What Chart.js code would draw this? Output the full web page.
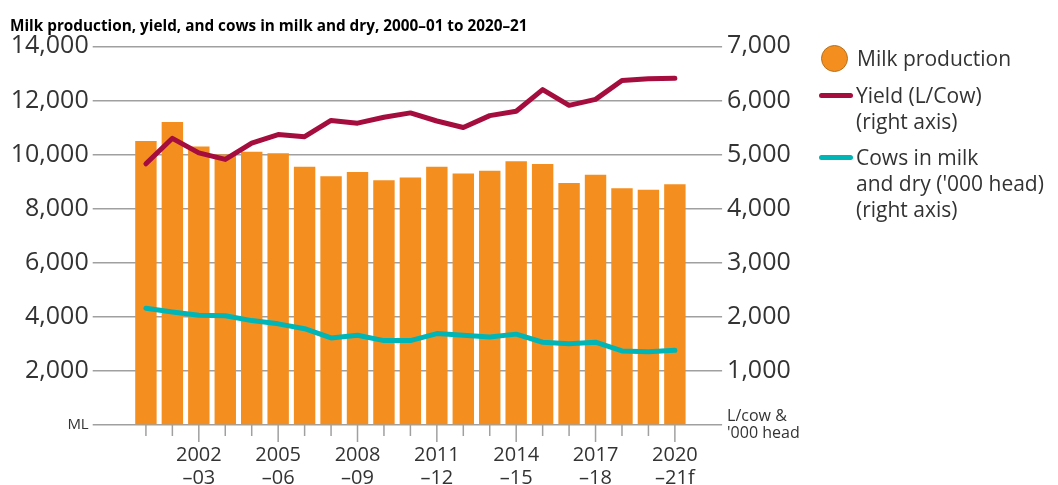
<!DOCTYPE html>
<html>
<head>
<meta charset="utf-8">
<script src="https://cdn.jsdelivr.net/npm/chart.js@4"></script>
<style>
    body { margin: 0; background: #fff; }
    #wrap { position: relative; width: 1058px; height: 485px; }
    .legend { position: absolute; font-family: 'Open Sans', sans-serif; font-size: 21px; line-height: 26px; color: #333; }
    .dot { position: absolute; width: 25px; height: 25px; border-radius: 50%; background: #F48F1F; border: 1px solid #b8701c; }
    .bar { position: absolute; width: 34px; height: 5px; border-radius: 3px; }
</style>
</head>
<body>
<div id="wrap">
    <canvas id="milkChart" width="1058" height="485"></canvas>
    <div class="dot" style="left:821px; top:45px;"></div>
    <div class="legend" style="left:857px; top:45px;">Milk production</div>
    <div class="bar" style="left:819px; top:93px; background:#A50D3F;"></div>
    <div class="legend" style="left:856px; top:82px;">Yield (L/Cow)<br>(right axis)</div>
    <div class="bar" style="left:819px; top:155px; background:#00B5B5;"></div>
    <div class="legend" style="left:856px; top:144px;">Cows in milk<br>and dry ('000 head)<br>(right axis)</div>
</div>
<script>
// Dados do gráfico
const categories = ['2000–01', '2001–02', '2002–03', '2003–04', '2004–05', '2005–06', '2006–07',
    '2007–08', '2008–09', '2009–10', '2010–11', '2011–12', '2012–13', '2013–14', '2014–15',
    '2015–16', '2016–17', '2017–18', '2018–19', '2019–20', '2020–21f'];
const milkProduction = [10500, 11200, 10300, 10000, 10100, 10050, 9550, 9200, 9350, 9050, 9150,
    9550, 9300, 9400, 9750, 9650, 8950, 9250, 8750, 8700, 8900];
const yieldPerCow = [4830, 5300, 5030, 4910, 5210, 5370, 5330, 5630, 5580, 5690, 5770,
    5620, 5500, 5720, 5800, 6200, 5910, 6020, 6370, 6400, 6410];
const cowsHead = [2160, 2090, 2030, 2020, 1930, 1870, 1780, 1610, 1660, 1560, 1560,
    1690, 1660, 1625, 1680, 1530, 1500, 1530, 1370, 1355, 1380];
const leftTicks = [0, 2000, 4000, 6000, 8000, 10000, 12000, 14000];
const rightTicks = [0, 1000, 2000, 3000, 4000, 5000, 6000, 7000];

const FONT = "'Open Sans', sans-serif";
const GRID = '#a0a0a0';

// marcas do eixo x (curtas em cada barra, longas nas rotuladas)
const xTickMarks = {
    id: 'xTickMarks',
    afterDraw(chart) {
        const ctx = chart.ctx;
        const x = chart.scales.x;
        const top = chart.scales.y.getPixelForValue(0);
        ctx.save();
        ctx.strokeStyle = GRID;
        ctx.lineWidth = 1.5;
        categories.forEach((c, i) => {
            const px = x.getPixelForValue(i);
            const len = i % 3 === 2 ? 17 : 11;
            ctx.beginPath();
            ctx.moveTo(px, top);
            ctx.lineTo(px, top + len);
            ctx.stroke();
        });
        ctx.restore();
    }
};

document.addEventListener('DOMContentLoaded', function() {
    const ctx = document.getElementById('milkChart').getContext('2d');
    new Chart(ctx, {
        type: 'bar',
        data: {
            labels: categories,
            datasets: [
                {
                    type: 'line',
                    label: 'Yield (L/Cow) (right axis)',
                    data: yieldPerCow,
                    yAxisID: 'y1',
                    borderColor: '#A50D3F',
                    borderWidth: 5,
                    pointRadius: 0,
                    tension: 0,
                    borderJoinStyle: 'round',
                    borderCapStyle: 'round',
                    order: 0
                },
                {
                    type: 'line',
                    label: "Cows in milk and dry ('000 head) (right axis)",
                    data: cowsHead,
                    yAxisID: 'y1',
                    borderColor: '#00B5B5',
                    borderWidth: 5,
                    pointRadius: 0,
                    tension: 0,
                    borderJoinStyle: 'round',
                    borderCapStyle: 'round',
                    order: 1
                },
                {
                    label: 'Milk production',
                    data: milkProduction,
                    yAxisID: 'y',
                    backgroundColor: '#F48F1F',
                    barPercentage: 0.81,
                    categoryPercentage: 1.0,
                    order: 2
                }
            ]
        },
        options: {
            responsive: false,
            animation: false,
            devicePixelRatio: 1,
            layout: { padding: { left: 10, right: 0, top: 0, bottom: 0 } },
            scales: {
                x: {
                    offset: true,
                    grid: { display: false, drawTicks: true, tickLength: 17 },
                    border: { display: false },
                    ticks: {
                        autoSkip: false,
                        maxRotation: 0,
                        padding: 2,
                        color: '#333',
                        font: { family: FONT, size: 20, lineHeight: 1.15 },
                        callback: function(value, index) {
                            if (index % 3 !== 2) return '';
                            const parts = categories[index].split('–');
                            return [parts[0], '–' + parts[1]];
                        }
                    },
                    afterFit: function(scale) { scale.height = 60; }
                },
                y: {
                    position: 'left',
                    min: 0,
                    max: 14000,
                    afterBuildTicks: function(scale) { scale.ticks = leftTicks.map(v => ({ value: v })); },
                    grid: { color: GRID, lineWidth: 1.5, tickLength: 40, tickColor: GRID },
                    border: { display: false },
                    ticks: {
                        padding: 4,
                        color: '#333',
                        font: function(c) {
                            return c.tick && c.tick.value === 0 ? { family: FONT, size: 15 } : { family: FONT, size: 25 };
                        },
                        callback: function(value) {
                            return value === 0 ? 'ML' : value.toLocaleString('en-US');
                        }
                    },
                    afterFit: function(scale) { scale.width = 122.7; }
                },
                y1: {
                    position: 'right',
                    min: 0,
                    max: 7000,
                    afterBuildTicks: function(scale) { scale.ticks = rightTicks.map(v => ({ value: v })); },
                    grid: { drawOnChartArea: false, color: GRID, lineWidth: 1.5, tickLength: 34, tickColor: GRID },
                    border: { display: false },
                    ticks: {
                        padding: 5,
                        color: '#333',
                        font: function(c) {
                            return c.tick && c.tick.value === 0 ? { family: FONT, size: 16, lineHeight: 1.1 } : { family: FONT, size: 25 };
                        },
                        callback: function(value) {
                            return value === 0 ? ['L/cow &', "'000 head"] : value.toLocaleString('en-US');
                        }
                    },
                    afterFit: function(scale) { scale.width = 369.9; }
                }
            },
            plugins: {
                legend: { display: false },
                tooltip: { enabled: false },
                title: {
                    display: true,
                    align: 'start',
                    text: 'Milk production, yield, and cows in milk and dry, 2000–01 to 2020–21',
                    color: '#000',
                    font: { family: FONT, size: 15.3, weight: 'bold', lineHeight: 1.2 },
                    padding: { top: 17, bottom: 11 }
                }
            }
        },
        plugins: [xTickMarks]
    });
});
</script>
</body>
</html>
